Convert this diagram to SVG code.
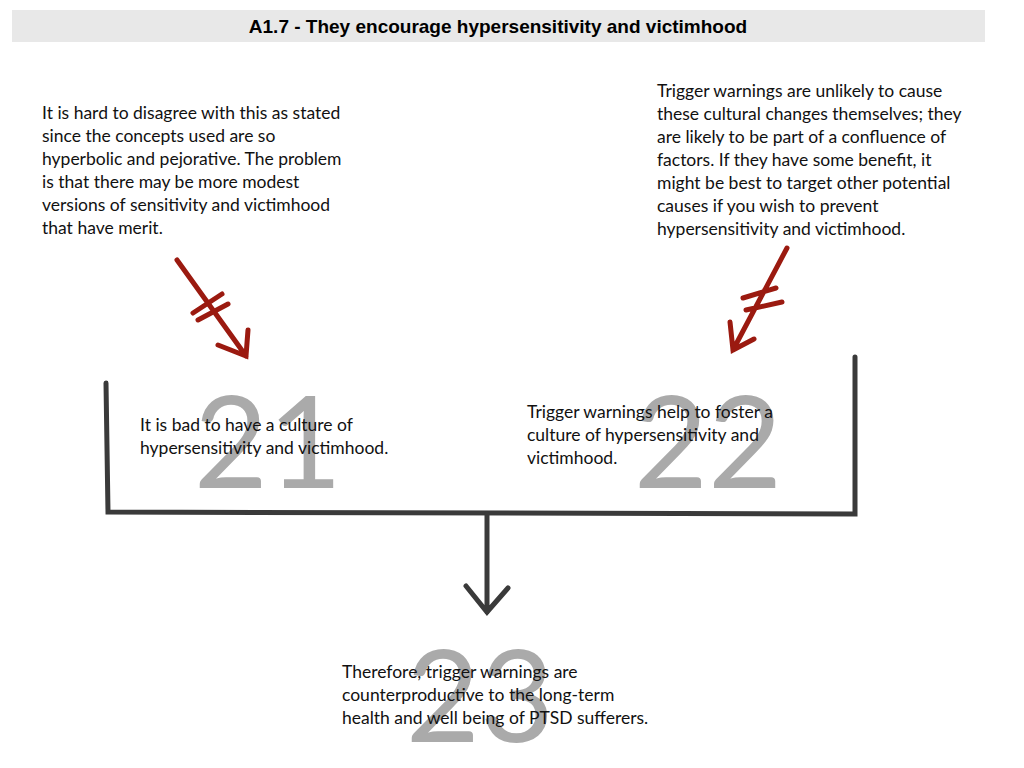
<svg xmlns="http://www.w3.org/2000/svg" width="1024" height="768" viewBox="0 0 1024 768">
<style>
.t{font-family:"Lato","Liberation Sans",sans-serif;font-size:17.5px;fill:#111}
.n{font-family:"Lato","Liberation Sans",sans-serif;font-size:128px;fill:#aaa;font-weight:normal}
.red{stroke:#9b1a10;stroke-width:5;fill:none;stroke-linecap:round}
.dk{stroke:#3a3a3a;stroke-width:5;fill:none;stroke-linecap:round}
</style>
<rect width="1024" height="768" fill="#fff"/>
<rect x="12" y="10" width="973" height="32" fill="#e8e8e8"/>
<text x="498" y="33" text-anchor="middle" font-family="Liberation Sans,sans-serif" font-weight="bold" font-size="19">A1.7 - They encourage hypersensitivity and victimhood</text>
<g id="n21"><text class="n" x="268" y="488" text-anchor="middle">21</text>
<text class="t"><tspan x="140" y="431">It is bad to have a culture of</tspan><tspan x="140" y="454">hypersensitivity and victimhood.</tspan></text></g>
<g id="n22"><text class="n" x="708" y="488" text-anchor="middle">22</text>
<text class="t"><tspan x="527" y="418">Trigger warnings help to foster a</tspan><tspan x="527" y="441">culture of hypersensitivity and</tspan><tspan x="527" y="464">victimhood.</tspan></text></g>
<g id="n23"><text class="n" x="480" y="742" text-anchor="middle">23</text>
<text class="t"><tspan x="342" y="678">Therefore, trigger warnings are</tspan><tspan x="342" y="701">counterproductive to the long-term</tspan><tspan x="342" y="724">health and well being of PTSD sufferers.</tspan></text></g>
<g id="o1"><text class="t"><tspan x="42" y="119">It is hard to disagree with this as stated</tspan><tspan x="42" y="142">since the concepts used are so</tspan><tspan x="42" y="165">hyperbolic and pejorative. The problem</tspan><tspan x="42" y="188">is that there may be more modest</tspan><tspan x="42" y="211">versions of sensitivity and victimhood</tspan><tspan x="42" y="234">that have merit.</tspan></text></g>
<g id="o2"><text class="t"><tspan x="657" y="97">Trigger warnings are unlikely to cause</tspan><tspan x="657" y="120">these cultural changes themselves; they</tspan><tspan x="657" y="143">are likely to be part of a confluence of</tspan><tspan x="657" y="166">factors. If they have some benefit, it</tspan><tspan x="657" y="189">might be best to target other potential</tspan><tspan x="657" y="212">causes if you wish to prevent</tspan><tspan x="657" y="235">hypersensitivity and victimhood.</tspan></text></g>
<g id="connectors">
<path class="red" d="M177 260 L246 356 M218 345 L246 356 L248 330 M193 313 L222 294 M198 320 L228 304"/>
<path class="red" d="M787 248 L733 350 M730 322 L733 350 L754 339 M743 298 L776 288 M746 310 L782 302"/>
<path class="dk" d="M106 383 L108 512 L855 514 L855 357"/>
<path class="dk" d="M487 514 L487 612 M466 586 L487 612 L508 588"/>
</g>
</svg>
